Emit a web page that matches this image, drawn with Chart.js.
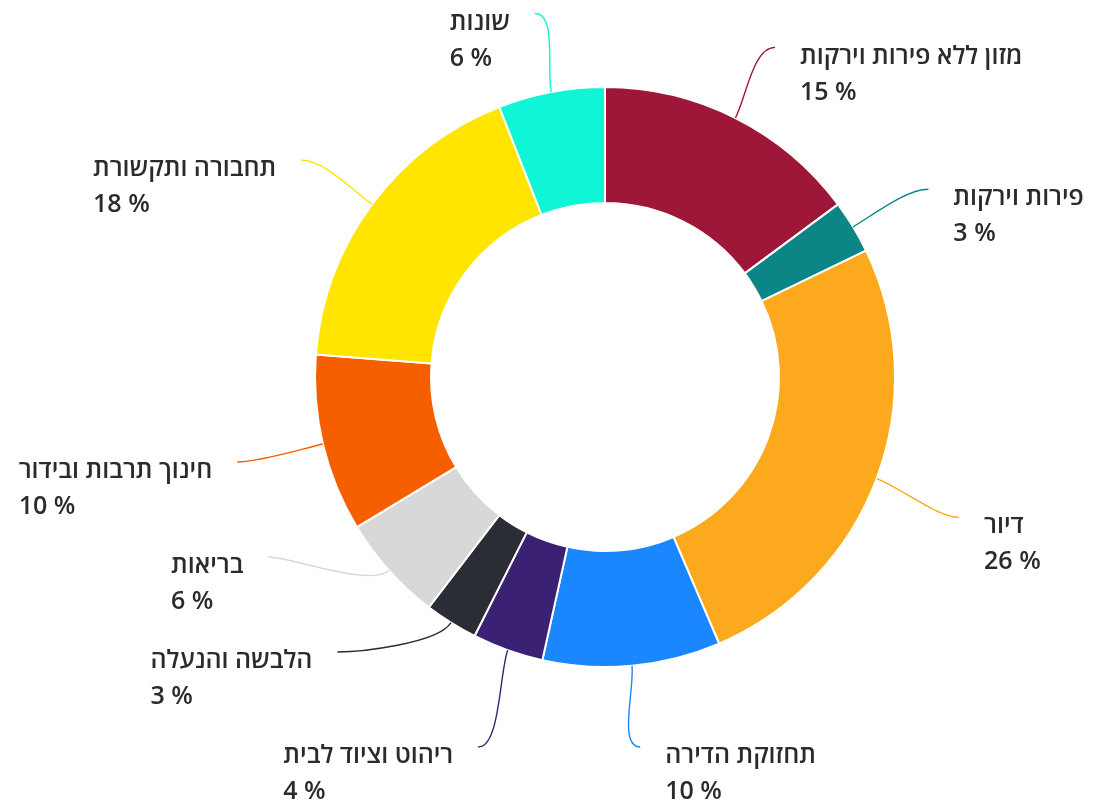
<!DOCTYPE html>
<html lang="he">
<head>
<meta charset="utf-8">
<title>התפלגות הוצאות</title>
<script src="https://cdn.jsdelivr.net/npm/chart.js@4.4.1/dist/chart.umd.min.js"></script>
<style>
	html, body { margin: 0; padding: 0; background: #fff; }
	#wrap { position: relative; width: 1094px; height: 804px; }
</style>
</head>
<body>
<div id="wrap"><canvas id="spend-donut"></canvas></div>
<script>
	'use strict';

	// slices, clockwise from 12 o'clock
	const categories = [
		'מזון ללא פירות וירקות',
		'פירות וירקות',
		'דיור',
		'תחזוקת הדירה',
		'ריהוט וציוד לבית',
		'הלבשה והנעלה',
		'בריאות',
		'חינוך תרבות ובידור',
		'תחבורה ותקשורת',
		'שונות',
	];
	const shares = [15, 3, 26, 10, 4, 3, 6, 10, 18, 6];
	const sliceColors = [
		'#9e1638', '#0b8585', '#fca91e', '#1a86ff', '#3b2173',
		'#2a2d35', '#d8d8d8', '#f55f00', '#ffe500', '#0ff5d6',
	];

	const LABEL_FONT = '600 25px "Open Sans", "DejaVu Sans", sans-serif';

	// spread labels on one side so they don't overlap vertically
	function spread(items, gap, minY, maxY) {
		items.sort((a, b) => a.y - b.y);
		for (let k = 0; k < 80; k++) {
			for (let i = 1; i < items.length; i++) {
				const overlap = gap - (items[i].y - items[i - 1].y);
				if (overlap > 0) {
					items[i - 1].y -= overlap / 2;
					items[i].y += overlap / 2;
				}
			}
			items.forEach((it) => { it.y = Math.min(maxY, Math.max(minY, it.y)); });
		}
	}

	const outsideLabels = {
		id: 'outsideLabels',
		afterDatasetsDraw(chart) {
			const ctx = chart.ctx;
			const arcs = chart.getDatasetMeta(0).data;
			if (!arcs.length) return;
			const cx = arcs[0].x;
			const cy = arcs[0].y;
			const R = arcs[0].outerRadius;
			const r = R + 88;
			const ly = cy + 8; // label ring sits a touch lower than the donut

			const left = [];
			const right = [];
			arcs.forEach((arc, i) => {
				const mid = (arc.startAngle + arc.endAngle) / 2;
				const dx = Math.cos(mid);
				const dy = Math.sin(mid);
				const item = {
					i, dx, dy,
					ex: cx + R * dx,
					ey: cy + R * dy,
					x0: cx + r * dx,
					y0: ly + r * dy,
					y: ly + r * dy,
					side: dx >= 0 ? 1 : -1,
				};
				(item.side > 0 ? right : left).push(item);
			});
			spread(left, 95, ly - r, cy + R + 80);
			spread(right, 95, ly - r, cy + R + 80);

			ctx.save();
			[...left, ...right].forEach((it) => {
				const y = it.y;
				let x = it.x0;
				if (Math.abs(y - it.y0) > 20) {
					const off = Math.min(Math.abs(y - ly), r);
					x = cx + it.side * Math.sqrt(r * r - off * off);
				}

				// connector
				ctx.beginPath();
				ctx.moveTo(it.ex, it.ey);
				ctx.bezierCurveTo(
					it.ex + it.dx * 25, it.ey + it.dy * 25,
					x - it.side * 22, y,
					x, y
				);
				ctx.strokeStyle = sliceColors[it.i];
				ctx.lineWidth = 1.4;
				ctx.stroke();

				// name + share
				ctx.font = LABEL_FONT;
				ctx.fillStyle = '#2b2b2b';
				ctx.textBaseline = 'middle';
				ctx.textAlign = 'left';
				ctx.direction = 'ltr';
				const name = categories[it.i];
				const pct = shares[it.i] + ' %';
				const w = Math.max(ctx.measureText(name).width, ctx.measureText(pct).width);
				const tx = it.side > 0 ? x + 25 : x - 25 - w;
				ctx.fillText(name, tx, y + 9);
				ctx.fillText(pct, tx, y + 45);
			});
			ctx.restore();
		},
	};

	new Chart(document.getElementById('spend-donut'), {
		type: 'doughnut',
		data: {
			labels: categories,
			datasets: [{
				data: shares,
				backgroundColor: sliceColors,
				borderColor: '#ffffff',
				borderWidth: 2,
				hoverOffset: 0,
			}],
		},
		options: {
			responsive: true,
			maintainAspectRatio: false,
			animation: false,
			cutout: '60%',
			layout: { padding: { left: 313, right: 197, top: 86, bottom: 136 } },
			plugins: {
				legend: { display: false },
				tooltip: { enabled: false },
			},
		},
		plugins: [outsideLabels],
	});
</script>
</body>
</html>
